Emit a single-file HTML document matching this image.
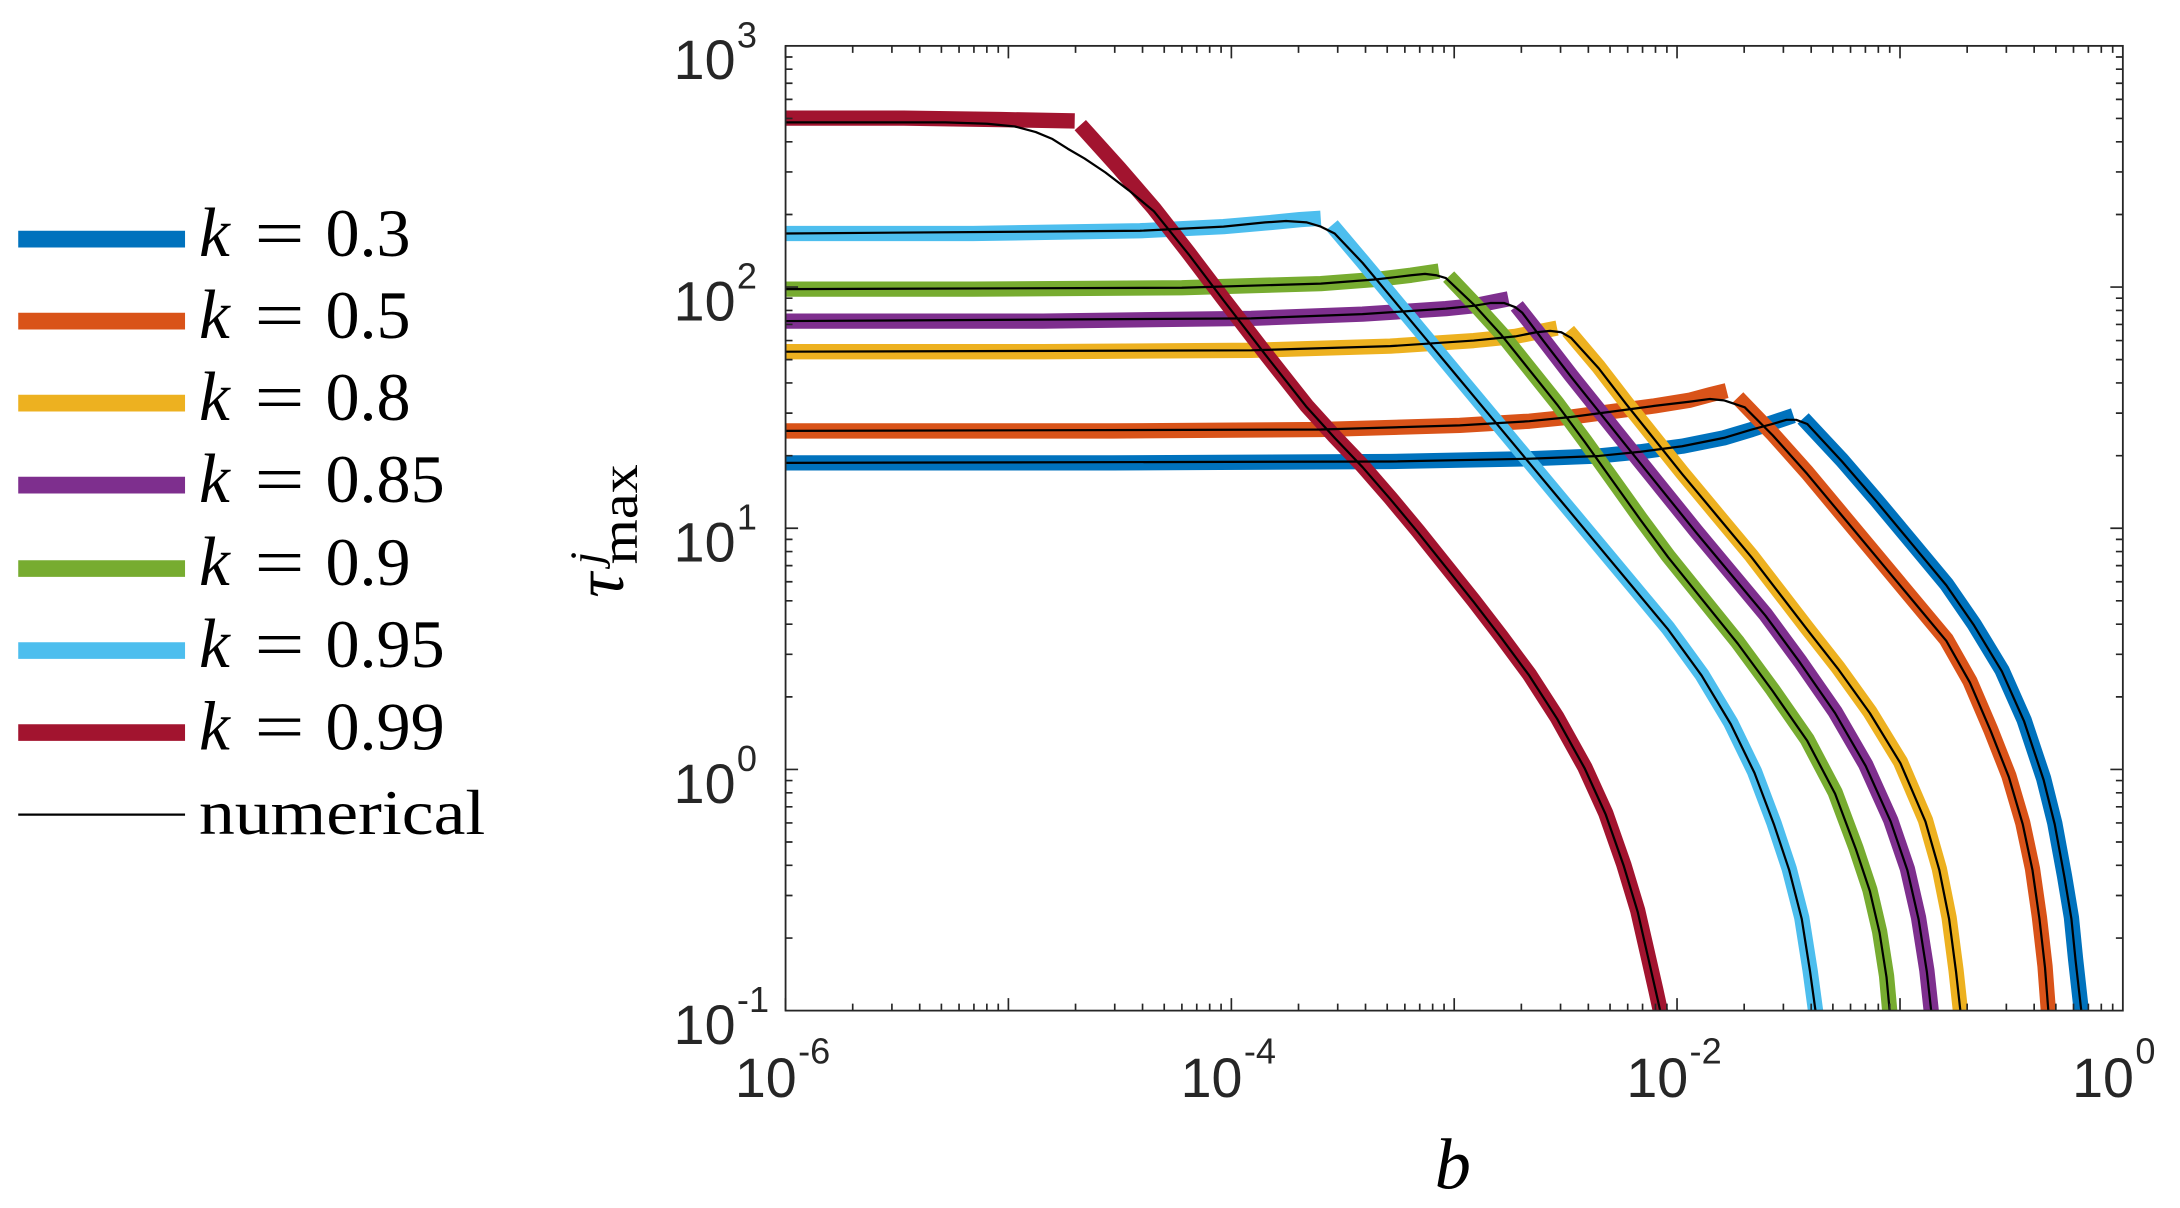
<!DOCTYPE html>
<html><head><meta charset="utf-8"><style>
html,body{margin:0;padding:0;background:#fff}
svg{display:block}
.t{font-family:"Liberation Sans",sans-serif;fill:#262626}
.s{font-family:"Liberation Serif",serif;fill:#000}
</style></head><body>
<svg width="2180" height="1208" viewBox="0 0 1568 869" xmlns="http://www.w3.org/2000/svg">
<rect width="1568" height="869" fill="#fff"/>
<defs><clipPath id="c"><rect x="565" y="33" width="962" height="694"/></clipPath></defs>
<g clip-path="url(#c)" fill="none" stroke-linejoin="round">
<g stroke-width="11">
<polyline stroke="#0072BD" points="560,333 800,333 1000,332 1100,330 1150,328 1180,325 1210,321 1240,315 1260,309 1275,304 1290,299"/>
<polyline stroke="#0072BD" points="1297,301 1325,331 1350,360 1375,390 1400,420 1420,449 1440,482 1456,518 1470,560 1478,592 1485,630 1490,660 1493,690 1498,735"/>
<polyline stroke="#D95319" points="560,310 800,310 950,309 1050,306 1100,303 1130,300 1160,296 1190,292 1215,288 1230,284 1242,281"/>
<polyline stroke="#D95319" points="1250,286 1275,312 1300,340 1325,370 1350,400 1375,430 1400,460 1417,490 1432,525 1445,558 1455,592 1462,625 1467,660 1471,695 1474,735"/>
<polyline stroke="#EDB120" points="560,253 750,253 900,252 1000,249 1060,245 1090,242 1105,239 1120,236"/>
<polyline stroke="#EDB120" points="1128,238 1150,264 1170,290 1190,315 1210,340 1235,370 1260,400 1280,426 1300,452 1322,480 1345,512 1367,548 1385,590 1395,625 1402,660 1407,698 1411,735"/>
<polyline stroke="#7E2F8E" points="560,231 750,231 900,229 980,226 1040,222 1060,220 1075,217 1085,215"/>
<polyline stroke="#7E2F8E" points="1091,220 1110,244 1130,270 1150,295 1170,320 1195,351 1220,382 1245,412 1270,442 1295,476 1320,512 1342,550 1360,590 1372,625 1380,660 1386,698 1390,735"/>
<polyline stroke="#77AC30" points="560,208 700,208 850,207 950,204 990,201 1015,198 1035,195"/>
<polyline stroke="#77AC30" points="1042,199 1060,218 1080,240 1100,265 1120,290 1140,317 1160,345 1180,373 1200,400 1225,431 1250,462 1275,496 1300,532 1320,570 1335,610 1345,640 1352,670 1357,702 1360,735"/>
<polyline stroke="#4DBEEE" points="560,168 700,168 820,166 880,163 915,160 935,158 950,157"/>
<polyline stroke="#4DBEEE" points="958,162 980,188 1000,212 1025,242 1050,272 1075,302 1100,332 1125,362 1150,392 1175,422 1200,452 1224,485 1245,520 1262,555 1276,592 1287,625 1296,660 1302,698 1307,735"/>
<polyline stroke="#A2142F" points="560,85 650,85 720,86 773,87"/>
<polyline stroke="#A2142F" points="777,90 805,121 830,150 855,182 880,215 910,254 940,292 960,314 980,335 1000,358 1020,382 1040,407 1060,432 1080,458 1100,485 1120,516 1140,552 1155,585 1168,622 1178,655 1186,690 1191,712 1196,735"/>
</g>
<g stroke="#000" stroke-width="1.6">
<polyline points="560,333 1000,332 1100,330 1150,328 1180,325 1210,321 1240,315 1260,309 1275,305 1285,302 1292,302 1300,305 1325,332 1350,361 1375,391 1400,421 1420,450 1440,483 1456,519 1470,561 1478,593 1485,631 1490,661 1493,691 1498,735"/>
<polyline points="560,310 950,309 1050,306 1100,303 1130,300 1160,296 1190,292 1215,289 1230,287 1240,288 1255,293 1275,313 1300,341 1325,371 1350,401 1375,431 1400,461 1417,491 1432,526 1445,559 1455,593 1462,626 1467,661 1471,696 1474,735"/>
<polyline points="560,253 900,252 1000,249 1060,245 1090,242 1105,239 1115,238 1123,239 1130,243 1150,265 1170,291 1190,316 1210,341 1235,371 1260,401 1280,427 1300,453 1322,481 1345,513 1367,549 1385,591 1395,626 1402,661 1407,699 1411,735"/>
<polyline points="560,231 900,229 980,226 1040,222 1060,220 1072,218 1082,218 1090,221 1095,225 1110,245 1130,271 1150,296 1170,321 1195,352 1220,383 1245,413 1270,443 1295,477 1320,513 1342,551 1360,591 1372,626 1380,661 1386,699 1390,735"/>
<polyline points="560,208 850,207 950,204 990,201 1015,198 1025,197 1033,198 1040,200 1060,219 1080,241 1100,266 1120,291 1140,318 1160,346 1180,374 1200,401 1225,432 1250,463 1275,497 1300,533 1320,571 1335,611 1345,641 1352,671 1357,703 1360,735"/>
<polyline points="560,168 820,166 880,163 910,160 925,159 940,160 950,163 960,168 980,189 1000,213 1025,243 1050,273 1075,303 1100,333 1125,363 1150,393 1175,423 1200,453 1224,486 1245,521 1262,556 1276,593 1287,626 1296,661 1302,699 1307,735"/>
<polyline points="560,88 680,88 710,89 730,91 745,95 757,100 768,107 780,114 795,124 812,137 830,152 855,183 880,216 910,255 940,293 960,315 980,336 1000,359 1020,383 1040,408 1060,433 1080,459 1100,486 1120,517 1140,553 1155,586 1168,623 1178,656 1186,691 1191,713 1196,735"/>
</g>
</g>
<rect x="565" y="33" width="962" height="694" fill="none" stroke="#262626" stroke-width="1.3"/>
<g stroke="#262626" stroke-width="1.2" fill="none">
<path d="M565,727v-9M725.3,727v-9M885.7,727v-9M1046,727v-9M1206.3,727v-9M1366.7,727v-9M565,33v9M725.3,33v9M885.7,33v9M1046,33v9M1206.3,33v9M1366.7,33v9M565,553.5h9M565,380h9M565,206.5h9M1527,553.5h-9M1527,380h-9M1527,206.5h-9"/>
<path d="M613.3,727v-5M641.5,727v-5M661.5,727v-5M677.1,727v-5M689.8,727v-5M700.5,727v-5M709.8,727v-5M718,727v-5M773.6,727v-5M801.8,727v-5M821.8,727v-5M837.4,727v-5M850.1,727v-5M860.8,727v-5M870.1,727v-5M878.3,727v-5M934,727v-5M962.2,727v-5M982.2,727v-5M997.8,727v-5M1010.5,727v-5M1021.2,727v-5M1030.5,727v-5M1038.7,727v-5M1094.3,727v-5M1122.5,727v-5M1142.5,727v-5M1158.1,727v-5M1170.8,727v-5M1181.5,727v-5M1190.8,727v-5M1199,727v-5M1254.6,727v-5M1282.8,727v-5M1302.8,727v-5M1318.4,727v-5M1331.1,727v-5M1341.8,727v-5M1351.1,727v-5M1359.3,727v-5M1415,727v-5M1443.2,727v-5M1463.2,727v-5M1478.8,727v-5M1491.5,727v-5M1502.2,727v-5M1511.5,727v-5M1519.7,727v-5"/>
<path d="M613.3,33v5M641.5,33v5M661.5,33v5M677.1,33v5M689.8,33v5M700.5,33v5M709.8,33v5M718,33v5M773.6,33v5M801.8,33v5M821.8,33v5M837.4,33v5M850.1,33v5M860.8,33v5M870.1,33v5M878.3,33v5M934,33v5M962.2,33v5M982.2,33v5M997.8,33v5M1010.5,33v5M1021.2,33v5M1030.5,33v5M1038.7,33v5M1094.3,33v5M1122.5,33v5M1142.5,33v5M1158.1,33v5M1170.8,33v5M1181.5,33v5M1190.8,33v5M1199,33v5M1254.6,33v5M1282.8,33v5M1302.8,33v5M1318.4,33v5M1331.1,33v5M1341.8,33v5M1351.1,33v5M1359.3,33v5M1415,33v5M1443.2,33v5M1463.2,33v5M1478.8,33v5M1491.5,33v5M1502.2,33v5M1511.5,33v5M1519.7,33v5"/>
<path d="M565,674.8h5M565,644.2h5M565,622.5h5M565,605.7h5M565,592h5M565,580.4h5M565,570.3h5M565,561.5h5M565,501.3h5M565,470.7h5M565,449h5M565,432.2h5M565,418.5h5M565,406.9h5M565,396.8h5M565,388h5M565,327.8h5M565,297.2h5M565,275.5h5M565,258.7h5M565,245h5M565,233.4h5M565,223.3h5M565,214.5h5M565,154.3h5M565,123.7h5M565,102h5M565,85.2h5M565,71.5h5M565,59.9h5M565,49.8h5M565,41h5"/>
<path d="M1527,674.8h-5M1527,644.2h-5M1527,622.5h-5M1527,605.7h-5M1527,592h-5M1527,580.4h-5M1527,570.3h-5M1527,561.5h-5M1527,501.3h-5M1527,470.7h-5M1527,449h-5M1527,432.2h-5M1527,418.5h-5M1527,406.9h-5M1527,396.8h-5M1527,388h-5M1527,327.8h-5M1527,297.2h-5M1527,275.5h-5M1527,258.7h-5M1527,245h-5M1527,233.4h-5M1527,223.3h-5M1527,214.5h-5M1527,154.3h-5M1527,123.7h-5M1527,102h-5M1527,85.2h-5M1527,71.5h-5M1527,59.9h-5M1527,49.8h-5M1527,41h-5"/>
</g>
<g class="t">
<text x="529" y="751" font-size="40" text-anchor="end">10</text><text x="530" y="728" font-size="26">-1</text>
<text x="529" y="577.5" font-size="40" text-anchor="end">10</text><text x="530" y="554.5" font-size="26">0</text>
<text x="529" y="404" font-size="40" text-anchor="end">10</text><text x="530" y="381" font-size="26">1</text>
<text x="529" y="230.5" font-size="40" text-anchor="end">10</text><text x="530" y="207.5" font-size="26">2</text>
<text x="529" y="57" font-size="40" text-anchor="end">10</text><text x="530" y="34" font-size="26">3</text>
<text x="573" y="789" font-size="40" text-anchor="end">10</text><text x="574" y="765" font-size="26">-6</text>
<text x="893.7" y="789" font-size="40" text-anchor="end">10</text><text x="894.7" y="765" font-size="26">-4</text>
<text x="1214.3" y="789" font-size="40" text-anchor="end">10</text><text x="1215.3" y="765" font-size="26">-2</text>
<text x="1535" y="789" font-size="40" text-anchor="end">10</text><text x="1536" y="765" font-size="26">0</text>
</g>
<text class="s" x="1045" y="855" font-size="52" font-style="italic" text-anchor="middle">b</text>
<g transform="translate(448,362) rotate(-90)">
<text class="s" x="-68" y="0" font-size="50" font-style="italic">τ</text>
<text class="s" x="-44" y="-16" font-size="32" font-style="italic">j</text>
<text class="s" x="-44" y="10" font-size="38" textLength="72" lengthAdjust="spacingAndGlyphs">max</text>
</g>
<g stroke-width="12">
<line x1="13" y1="172" x2="133" y2="172" stroke="#0072BD"/>
<line x1="13" y1="231" x2="133" y2="231" stroke="#D95319"/>
<line x1="13" y1="290" x2="133" y2="290" stroke="#EDB120"/>
<line x1="13" y1="349" x2="133" y2="349" stroke="#7E2F8E"/>
<line x1="13" y1="409" x2="133" y2="409" stroke="#77AC30"/>
<line x1="13" y1="468" x2="133" y2="468" stroke="#4DBEEE"/>
<line x1="13" y1="527" x2="133" y2="527" stroke="#A2142F"/>
</g>
<line x1="13" y1="586" x2="133" y2="586" stroke="#000" stroke-width="1.6"/>
<g class="s" font-size="49">
<text x="143" y="184" font-style="italic" font-size="50">k</text><text x="183" y="184" textLength="36" lengthAdjust="spacingAndGlyphs">=</text><text x="234" y="184">0.3</text>
<text x="143" y="243" font-style="italic" font-size="50">k</text><text x="183" y="243" textLength="36" lengthAdjust="spacingAndGlyphs">=</text><text x="234" y="243">0.5</text>
<text x="143" y="302" font-style="italic" font-size="50">k</text><text x="183" y="302" textLength="36" lengthAdjust="spacingAndGlyphs">=</text><text x="234" y="302">0.8</text>
<text x="143" y="361" font-style="italic" font-size="50">k</text><text x="183" y="361" textLength="36" lengthAdjust="spacingAndGlyphs">=</text><text x="234" y="361">0.85</text>
<text x="143" y="421" font-style="italic" font-size="50">k</text><text x="183" y="421" textLength="36" lengthAdjust="spacingAndGlyphs">=</text><text x="234" y="421">0.9</text>
<text x="143" y="480" font-style="italic" font-size="50">k</text><text x="183" y="480" textLength="36" lengthAdjust="spacingAndGlyphs">=</text><text x="234" y="480">0.95</text>
<text x="143" y="539" font-style="italic" font-size="50">k</text><text x="183" y="539" textLength="36" lengthAdjust="spacingAndGlyphs">=</text><text x="234" y="539">0.99</text>
<text x="143" y="600" font-size="46" textLength="206" lengthAdjust="spacingAndGlyphs">numerical</text>
</g>
</svg>
</body></html>
